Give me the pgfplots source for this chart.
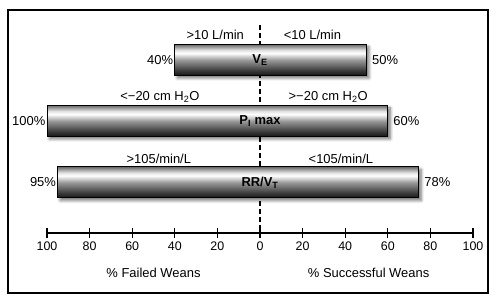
\documentclass[border=0pt]{standalone}
\usepackage{pgfplots}
\pgfplotsset{compat=1.18}
\usepackage{fontspec}
\setmainfont{Liberation Sans}
\usetikzlibrary{shadows,shadows.blur}
\pgfdeclareverticalshading{cyl}{100bp}{color(0bp)=(black!92); color(25bp)=(black!92); color(34bp)=(black!75); color(50bp)=(black!40); color(61bp)=(white); color(66bp)=(black!12); color(75bp)=(black!58); color(100bp)=(black!58)}
\pgfplotsset{cylbar/.style={draw=black, line width=1bp, shading=cyl, shade, mark=none, sharp plot,
  blur shadow={shadow xshift=2.5bp, shadow yshift=-2.5bp, shadow blur steps=6, shadow opacity=55, shadow blur radius=3bp}}}
\begin{document}
\begin{tikzpicture}[font=\fontsize{13}{15}\selectfont]
\begin{axis}[
  x=2.13bp, y=1bp,
  xmin=-100, xmax=100, ymin=0, ymax=223,
  axis x line=bottom, axis y line=none,
  axis line style={-, line width=1.3bp},
  xtick={-100,-80,...,100},
  xticklabels={100,80,60,40,20,0,20,40,60,80,100},
  xtick align=center, major tick length=10bp,
  tick style={black, line width=1.3bp},
  ytick=\empty,
  /pgf/number format/assume math mode=true,
  every tick label/.append style={font=\fontsize{12.5}{14}\selectfont},
  clip=false,
]
% frame and bounding area
\path (axis cs:-122.07,-70) rectangle (axis cs:112.68,233);
\draw[line width=2bp] (axis cs:-118.3,223) rectangle (axis cs:107.04,-60);
% centre dashed line
\draw[line width=1.4bp, dash pattern=on 5bp off 3bp] (axis cs:0,208) -- (axis cs:0,0);
% bars: left end -40 / right end 50 ; -100 / 60 ; -95 / 74.5 (labelled 78%)
\addplot[cylbar] coordinates {(-40,157.5) (50,157.5) (50,188.5) (-40,188.5)} -- cycle;
\addplot[cylbar] coordinates {(-100,96.5) (60,96.5) (60,127.5) (-100,127.5)} -- cycle;
\addplot[cylbar] coordinates {(-95,35) (74.5,35) (74.5,66) (-95,66)} -- cycle;
% bar labels
\node[font=\fontsize{13}{15}\selectfont\bfseries] at (axis cs:0,173) {V\textsubscript{E}};
\node[font=\fontsize{13}{15}\selectfont\bfseries] at (axis cs:0,112) {P\textsubscript{I} max};
\node[font=\fontsize{13}{15}\selectfont\bfseries] at (axis cs:0,50.5) {RR/V\textsubscript{T}};
% percentages
\node[anchor=east, inner sep=1.5bp] at (axis cs:-40,173) {40\%};
\node[anchor=west, inner sep=1.5bp, xshift=4bp] at (axis cs:50,173) {50\%};
\node[anchor=east, inner sep=1.5bp] at (axis cs:-100,112) {100\%};
\node[anchor=west, inner sep=1.5bp, xshift=4bp] at (axis cs:60,112) {60\%};
\node[anchor=east, inner sep=1.5bp] at (axis cs:-95,50.5) {95\%};
\node[anchor=west, inner sep=1.5bp, xshift=4bp] at (axis cs:74.5,50.5) {78\%};
% thresholds
\node at (axis cs:-21,198) {>10 L/min};
\node at (axis cs:24.6,198) {<10 L/min};
\node at (axis cs:-47,136) {<−20 cm H\textsubscript{2}O};
\node at (axis cs:32,136) {>−20 cm H\textsubscript{2}O};
\node at (axis cs:-47.5,74) {>105/min/L};
\node at (axis cs:38,74) {<105/min/L};
% axis titles
\node at (axis cs:-50,-40) {\% Failed Weans};
\node at (axis cs:51,-40) {\% Successful Weans};
\end{axis}
\end{tikzpicture}
\end{document}
